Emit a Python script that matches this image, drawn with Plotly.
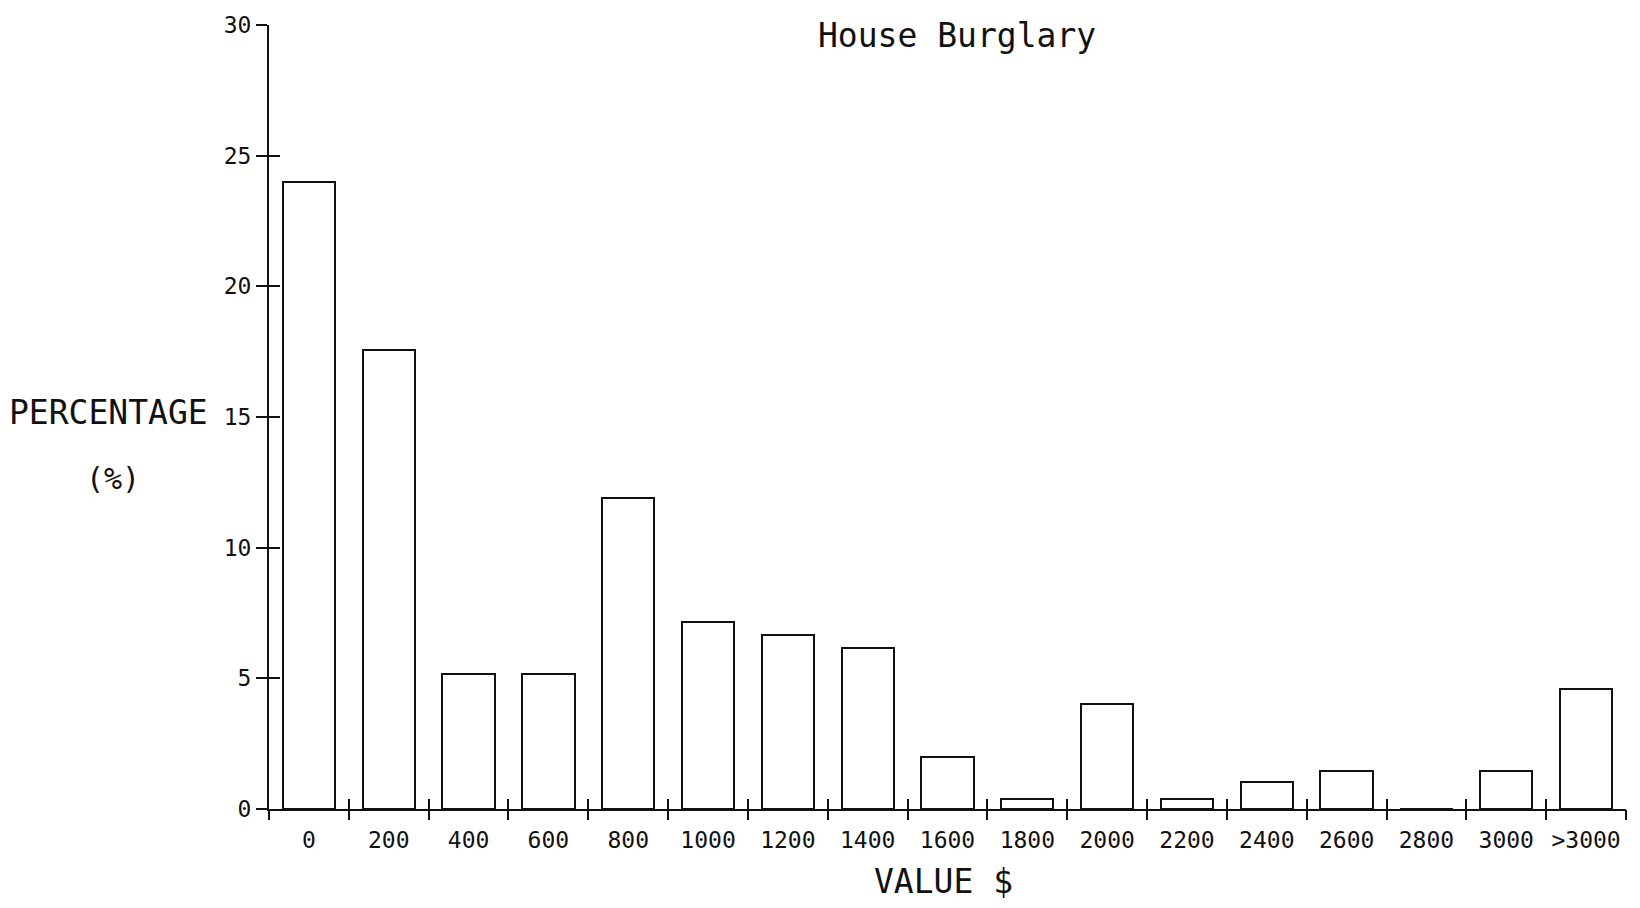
import plotly.graph_objects as go

categories = ["0", "200", "400", "600", "800", "1000", "1200", "1400", "1600",
              "1800", "2000", "2200", "2400", "2600", "2800", "3000", ">3000"]
percentages = [24.0, 17.55, 5.15, 5.15, 11.9, 7.15, 6.65, 6.15, 2.0,
               0.4, 4.0, 0.4, 1.05, 1.45, 0.0, 1.45, 4.6]
y_ticks = [0, 5, 10, 15, 20, 25, 30]

n = len(categories)
centers = list(range(n))
boundaries = [i - 0.5 for i in range(n + 1)]
xr = [-0.5, n - 0.5]
yr = [0, 30]

FONT = "DejaVu Sans Mono"
INK = "#111111"

fig = go.Figure()
fig.add_trace(go.Bar(
    x=centers, y=percentages, width=0.655,
    marker=dict(color="white", line=dict(color=INK, width=2)),
    hoverinfo="x+y", showlegend=False,
))
# invisible traces so the overlay axes are drawn
fig.add_trace(go.Scatter(x=xr, y=yr, xaxis="x2", yaxis="y2", mode="markers",
                         marker=dict(opacity=0), showlegend=False, hoverinfo="skip"))
fig.add_trace(go.Scatter(x=xr, y=yr, xaxis="x3", yaxis="y3", mode="markers",
                         marker=dict(opacity=0), showlegend=False, hoverinfo="skip"))

common_x = dict(range=xr, showgrid=False, zeroline=False, fixedrange=True)
common_y = dict(range=yr, showgrid=False, zeroline=False, fixedrange=True)

fig.update_layout(
    width=1640, height=908,
    margin=dict(l=269, r=14, t=18, b=99),
    paper_bgcolor="white", plot_bgcolor="white",
    font=dict(family=FONT, color=INK),
    bargap=0,
    xaxis=dict(**common_x, tickmode="array", tickvals=centers, ticktext=categories,
               ticks="outside", ticklen=9, tickcolor="rgba(0,0,0,0)",
               showline=True, linecolor=INK, linewidth=2,
               tickfont=dict(family=FONT, size=23, color=INK)),
    xaxis2=dict(**common_x, overlaying="x", anchor="y", side="bottom",
                tickmode="array", tickvals=boundaries, showticklabels=False,
                ticks="outside", ticklen=10, tickwidth=2, tickcolor=INK, showline=False),
    xaxis3=dict(**common_x, overlaying="x", anchor="y", side="bottom",
                tickmode="array", tickvals=boundaries, showticklabels=False,
                ticks="inside", ticklen=10, tickwidth=2, tickcolor=INK, showline=False),
    yaxis=dict(**common_y, tickmode="array", tickvals=y_ticks,
               ticktext=[str(v) for v in y_ticks],
               ticks="outside", ticklen=11, tickwidth=2, tickcolor=INK,
               showline=True, linecolor=INK, linewidth=2,
               tickfont=dict(family=FONT, size=23, color=INK)),
    yaxis2=dict(**common_y, overlaying="y", anchor="x", side="left",
                tickmode="array", tickvals=y_ticks, showticklabels=False,
                ticks="inside", ticklen=11, tickwidth=2, tickcolor=INK, showline=False),
    yaxis3=dict(**common_y, overlaying="y", anchor="x", side="left",
                tickmode="array", tickvals=y_ticks, showticklabels=False,
                ticks="", showline=False),
    annotations=[
        dict(text="House Burglary", xref="paper", yref="paper", x=0.507, y=0.986,
             showarrow=False, xanchor="center", yanchor="middle",
             font=dict(family=FONT, size=33, color=INK)),
        dict(text="PERCENTAGE", xref="paper", yref="paper", x=-0.118, y=0.506,
             showarrow=False, xanchor="center", yanchor="middle",
             font=dict(family=FONT, size=33, color=INK)),
        dict(text="(%)", xref="paper", yref="paper", x=-0.115, y=0.422,
             showarrow=False, xanchor="center", yanchor="middle",
             font=dict(family=FONT, size=30, color=INK)),
        dict(text="VALUE $", xref="paper", yref="paper", x=0.497, y=-0.0925,
             showarrow=False, xanchor="center", yanchor="middle",
             font=dict(family=FONT, size=33, color=INK)),
    ],
)

fig.write_html("out.html", config={"displayModeBar": False},
               post_script="document.body.style.margin='0';")
